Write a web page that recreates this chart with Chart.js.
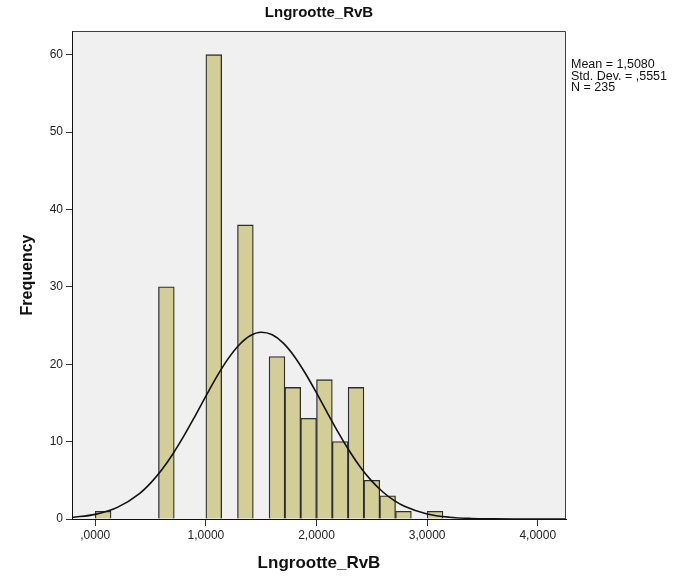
<!DOCTYPE html>
<html><head><meta charset="utf-8">
<script src="https://cdn.jsdelivr.net/npm/chart.js@4/dist/chart.umd.min.js"></script>
<style>html,body{margin:0;padding:0;background:#fff;}</style>
</head><body>
<canvas id="c" width="679" height="581" style="display:block;width:679px;height:581px"></canvas>
<script>
// ---- data ----
const chartTitle = 'Lngrootte_RvB';
const xTitle = 'Lngrootte_RvB';
const yTitle = 'Frequency';
const binStarts = [0, 0.5714, 1.0, 1.2857, 1.5714, 1.7143, 1.8571, 2.0, 2.1429, 2.2857, 2.4286, 2.5714, 2.7143, 3.0];
const binWidth = 0.142857;
const counts = [1, 30, 60, 38, 21, 17, 13, 18, 10, 17, 5, 3, 1, 1];
const curveX = [-0.21, 0, 0.2, 0.4, 0.5, 0.6, 0.7, 0.8, 0.9, 1.0, 1.1, 1.2, 1.3, 1.4, 1.5, 1.6, 1.7, 1.8, 1.9, 2.0, 2.1, 2.2, 2.3, 2.4, 2.5, 2.6, 2.7, 2.8, 3.0, 3.2, 3.4, 3.6, 3.8, 4.0, 4.255];
const curveY = [0.20, 0.60, 1.50, 3.29, 4.64, 6.33, 8.37, 10.70, 13.24, 15.87, 18.42, 20.69, 22.49, 23.68, 24.13, 23.80, 22.73, 21.01, 18.80, 16.29, 13.66, 11.09, 8.72, 6.63, 4.89, 3.49, 2.41, 1.61, 0.65, 0.23, 0.07, 0.02, 0.005, 0.001, 0.0001];
const xTicks = [0, 1, 2, 3, 4];
const xTickLabels = [',0000', '1,0000', '2,0000', '3,0000', '4,0000'];
const yTicks = [0, 10, 20, 30, 40, 50, 60];
const statsLines = ['Mean = 1,5080', 'Std. Dev. = ,5551', 'N = 235'];
const xRange = [-0.21, 4.255];
const yRange = [0, 63.06];

const FONT = "'Liberation Sans', Arial, sans-serif";

const framePlugin = {
  id: 'frame',
  beforeDraw(chart) {
    const {ctx, chartArea: a} = chart;
    ctx.save();
    ctx.fillStyle = '#f0f0f0';
    ctx.fillRect(a.left, a.top, a.right - a.left, a.bottom - a.top);
    ctx.restore();
  },
  afterDraw(chart) {
    const {ctx, chartArea: a} = chart;
    ctx.save();
    ctx.strokeStyle = '#404040';
    ctx.lineWidth = 1;
    ctx.beginPath();
    ctx.moveTo(Math.round(a.left) + 0.5, Math.round(a.top) + 0.5);
    ctx.lineTo(Math.round(a.right) - 0.5, Math.round(a.top) + 0.5);
    ctx.lineTo(Math.round(a.right) - 0.5, Math.round(a.bottom));
    ctx.stroke();
    ctx.fillStyle = '#111';
    ctx.font = '12.5px ' + FONT;
    ctx.textBaseline = 'alphabetic';
    ctx.textAlign = 'left';
    statsLines.forEach((t, i) => ctx.fillText(t, a.right + 5, 68 + i * 11.5));
    ctx.restore();
  }
};

new Chart(document.getElementById('c'), {
  type: 'bar',
  data: {
    datasets: [
      {
        type: 'line',
        order: 0,
        data: curveX.map((x, i) => ({x, y: curveY[i]})),
        borderColor: '#111',
        borderWidth: 1.6,
        pointRadius: 0,
        fill: false,
        cubicInterpolationMode: 'monotone'
      },
      {
        type: 'bar',
        order: 1,
        data: binStarts.map((s, i) => ({x: s + binWidth / 2, y: counts[i]})),
        backgroundColor: '#d3ce98',
        borderColor: '#2e2e2e',
        borderWidth: 1.3,
        categoryPercentage: 1,
        barPercentage: 1
      }
    ]
  },
  options: {
    responsive: false,
    animation: false,
    devicePixelRatio: 1,
    layout: {padding: {left: 0, right: 113, top: 0, bottom: 0}},
    plugins: {
      legend: {display: false},
      tooltip: {enabled: false},
      title: {
        display: true,
        text: chartTitle,
        fullSize: false,
        color: '#111',
        font: {family: FONT, size: 15, weight: 'bold', lineHeight: 1.2},
        padding: {top: 4, bottom: 9}
      }
    },
    scales: {
      x: {
        type: 'linear',
        min: xRange[0],
        max: xRange[1],
        offset: false,
        afterBuildTicks: s => { s.ticks = xTicks.map(v => ({value: v})); },
        afterFit: s => { s.height = 62; },
        ticks: {
          color: '#222',
          font: {family: FONT, size: 12},
          padding: 2,
          maxRotation: 0,
          callback: (v) => xTickLabels[xTicks.indexOf(v)]
        },
        grid: {display: true, drawOnChartArea: false, drawTicks: true, tickLength: 7, color: '#333', offset: false},
        border: {display: true, color: '#111', width: 1},
        title: {display: true, text: xTitle, color: '#111', font: {family: FONT, size: 17, weight: 'bold', lineHeight: 1.2}, padding: {top: 0, bottom: 7.8}}
      },
      y: {
        type: 'linear',
        min: yRange[0],
        max: yRange[1],
        afterBuildTicks: s => { s.ticks = yTicks.map(v => ({value: v})); },
        afterFit: s => { s.width = 72; },
        ticks: {color: '#222', font: {family: FONT, size: 12}, padding: 3},
        grid: {display: true, drawOnChartArea: false, drawTicks: true, tickLength: 6, color: '#333'},
        border: {display: true, color: '#111', width: 1},
        title: {display: true, text: yTitle, color: '#111', font: {family: FONT, size: 16, weight: 'bold', lineHeight: 1.2}, padding: {top: 18.4, bottom: 0}}
      }
    }
  },
  plugins: [framePlugin]
});
</script>
</body></html>
